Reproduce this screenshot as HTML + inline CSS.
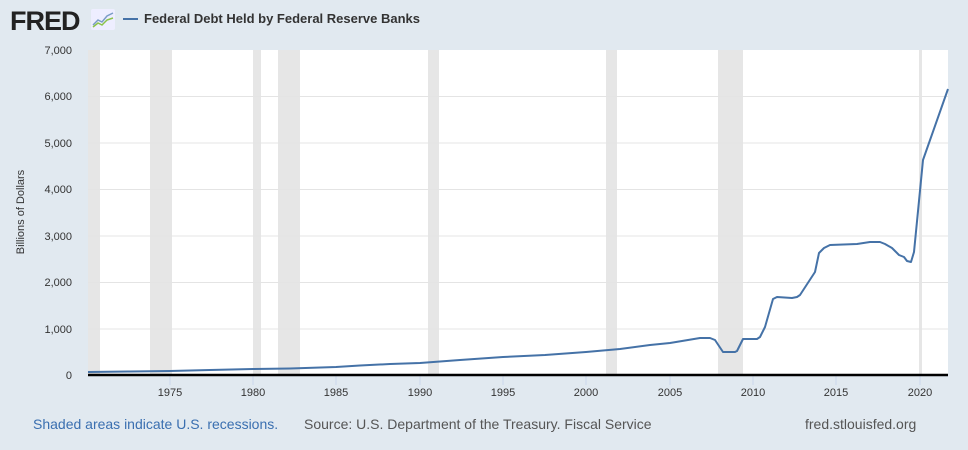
<!DOCTYPE html>
<html><head><meta charset="utf-8"><style>
html,body{margin:0;padding:0}
body{width:968px;height:450px;background:#e1e9f0;font-family:"Liberation Sans",Arial,sans-serif;position:relative;overflow:hidden}
.t{position:absolute;white-space:nowrap}
</style></head><body>
<div class="t" style="left:10px;top:6px;font-size:27px;font-weight:bold;color:#222;letter-spacing:-1px">FRED</div>
<svg class="t" style="left:91px;top:9px" width="24" height="21"><rect x="0" y="0" width="24" height="21" rx="2" fill="#eef"/><polyline points="2,16 7,11 11,13 16,7 22,4" fill="none" stroke="#7a9cc6" stroke-width="1.5"/><polyline points="2,18 7,14 11,16 16,11 22,9" fill="none" stroke="#8bc34a" stroke-width="1.5"/></svg>
<div class="t" style="left:123px;top:18px;width:15px;height:2px;background:#4572a7"></div>
<div class="t" style="left:144px;top:11px;font-size:13px;font-weight:bold;color:#333">Federal Debt Held by Federal Reserve Banks</div>
<svg class="t" style="left:0;top:0" width="968" height="450">
<rect x="88" y="50" width="860" height="325" fill="#fff"/>
<g fill="#e6e6e6">
<rect x="88" y="50" width="12" height="325"/>
<rect x="150" y="50" width="22" height="325"/>
<rect x="253" y="50" width="8" height="325"/>
<rect x="278" y="50" width="22" height="325"/>
<rect x="428" y="50" width="11" height="325"/>
<rect x="606" y="50" width="11" height="325"/>
<rect x="718" y="50" width="25" height="325"/>
<rect x="919" y="50" width="3" height="325"/>
</g>
<g stroke="#e4e4e4" stroke-width="1">
<line x1="88" x2="948" y1="96.5" y2="96.5"/><line x1="88" x2="948" y1="143" y2="143"/>
<line x1="88" x2="948" y1="189.5" y2="189.5"/><line x1="88" x2="948" y1="236" y2="236"/>
<line x1="88" x2="948" y1="282.5" y2="282.5"/><line x1="88" x2="948" y1="329" y2="329"/>
</g>
<g stroke="#ccd6eb" stroke-width="1">
<line x1="170" x2="170" y1="376" y2="385"/><line x1="253" x2="253" y1="376" y2="385"/>
<line x1="336" x2="336" y1="376" y2="385"/><line x1="420" x2="420" y1="376" y2="385"/>
<line x1="503" x2="503" y1="376" y2="385"/><line x1="586" x2="586" y1="376" y2="385"/>
<line x1="670" x2="670" y1="376" y2="385"/><line x1="753" x2="753" y1="376" y2="385"/>
<line x1="836" x2="836" y1="376" y2="385"/><line x1="920" x2="920" y1="376" y2="385"/>
</g>
<polyline fill="none" stroke="#4572a7" stroke-width="2" stroke-linejoin="round" points="88,372 130,371.5 170,371 210,370 253,369 290,368.5 336,367 360,365.5 390,364 420,363 460,360 503,357 545,355 586,352 620,349 650,345 670,343 700,338 710,338 715,340 723,352 735,352 737,351 743,339 757,339 760,337 765,327 773,299 777,297 792,298 797,297 800,295 815,272 819,253 824,248 830,245 857,244 870,242 880,242 885,244 892,248 899,255 904,257 907,261 911,262 914,252 923,160 948,89"/>
<line x1="88" x2="948" y1="375" y2="375" stroke="#000" stroke-width="2.5"/>
<g font-size="11" fill="#333" text-anchor="end" font-family="Liberation Sans,Arial,sans-serif">
<text x="72" y="54">7,000</text><text x="72" y="100">6,000</text><text x="72" y="147">5,000</text>
<text x="72" y="193">4,000</text><text x="72" y="240">3,000</text><text x="72" y="286">2,000</text>
<text x="72" y="333">1,000</text><text x="72" y="379">0</text>
</g>
<g font-size="11" fill="#333" text-anchor="middle" font-family="Liberation Sans,Arial,sans-serif">
<text x="170" y="396">1975</text><text x="253" y="396">1980</text><text x="336" y="396">1985</text>
<text x="420" y="396">1990</text><text x="503" y="396">1995</text><text x="586" y="396">2000</text>
<text x="670" y="396">2005</text><text x="753" y="396">2010</text><text x="836" y="396">2015</text>
<text x="920" y="396">2020</text>
</g>
<text transform="translate(24,212) rotate(-90)" font-size="11" fill="#333" text-anchor="middle" font-family="Liberation Sans,Arial,sans-serif">Billions of Dollars</text>
</svg>
<div class="t" style="left:33px;top:416px;font-size:14px;color:#3a6fb0">Shaded areas indicate U.S. recessions.</div>
<div class="t" style="left:304px;top:416px;font-size:14px;color:#555">Source: U.S. Department of the Treasury. Fiscal Service</div>
<div class="t" style="left:805px;top:416px;font-size:14px;color:#555">fred.stlouisfed.org</div>
</body></html>
